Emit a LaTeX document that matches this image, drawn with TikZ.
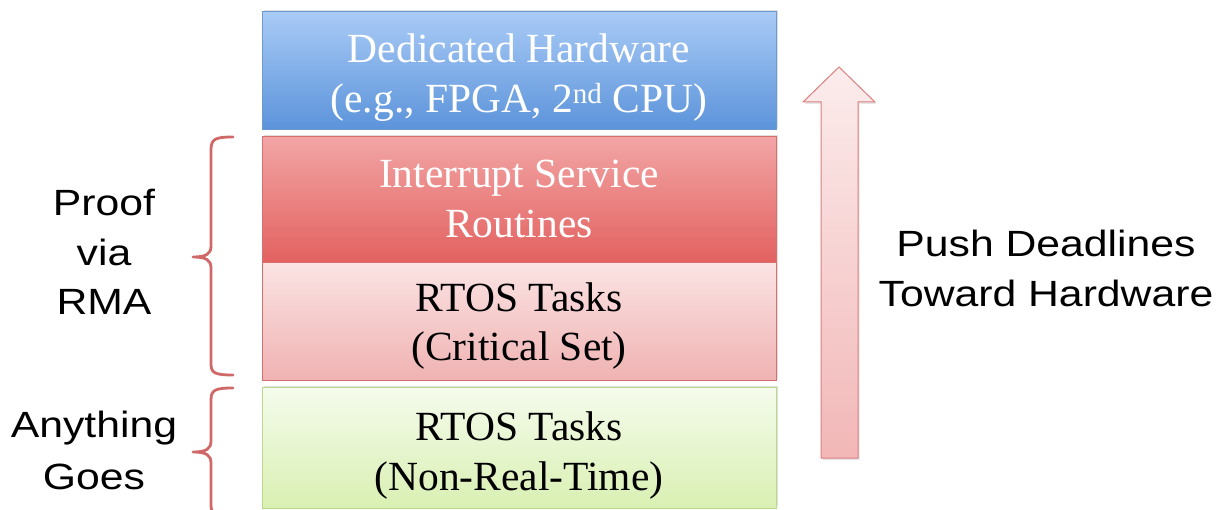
\documentclass[tikz,border=0pt]{standalone}
\usepackage{fontspec}
\setmainfont{Liberation Serif}
\newfontfamily\lblfont[FakeStretch=1.17]{Liberation Sans}
\usetikzlibrary{shadows}
\definecolor{bluetop}{HTML}{A9CBF6}
\definecolor{bluebot}{HTML}{5B93DA}
\definecolor{blueedge}{HTML}{6C9BD2}
\definecolor{redtop}{HTML}{F2A5A5}
\definecolor{redbot}{HTML}{E2615F}
\definecolor{rededge}{HTML}{D66F6D}
\definecolor{pinktop}{HTML}{FBE3E3}
\definecolor{pinkbot}{HTML}{F0B2B2}
\definecolor{greentop}{HTML}{F5FBEC}
\definecolor{greenbot}{HTML}{D9F0B2}
\definecolor{greenedge}{HTML}{B9D98D}
\definecolor{bracecol}{HTML}{D06868}
\definecolor{arrtop}{HTML}{FCECEC}
\definecolor{arrbot}{HTML}{F2B7B7}
\definecolor{arredge}{HTML}{DB7F7F}
\tikzset{
  layer/.style={line width=1pt, drop shadow={shadow xshift=1.5pt, shadow yshift=2pt, opacity=0.25}},
  boxtext/.style={font=\fontsize{41.5}{41.5}\selectfont, anchor=base, inner sep=0pt},
  sidetext/.style={font=\lblfont\fontsize{36.5}{36.5}\selectfont, anchor=base, inner sep=0pt},
  bracestyle/.style={draw=bracecol, line width=2.8pt, line cap=round, line join=round}
}
\begin{document}
\begin{tikzpicture}[x=1pt,y=-1pt]
\useasboundingbox (0,0) rectangle (1221,510);
\begin{scope}
\clip (0,0) rectangle (1221,510);
% boxes
\shade[layer, top color=greentop, bottom color=greenbot, draw=greenedge] (262,388) rectangle (776,508);
\shade[layer, top color=pinktop, bottom color=pinkbot, draw=rededge] (262,263) rectangle (776,381);
\shade[layer, top color=redtop, bottom color=redbot, draw=rededge] (262,137) rectangle (776,263);
\shade[layer, top color=bluetop, bottom color=bluebot, draw=blueedge] (262,12) rectangle (776,130);
% arrow
\shade[top color=arrtop, bottom color=arrbot, draw=arredge, line width=1pt,
  drop shadow={shadow xshift=1.5pt, shadow yshift=-2pt, opacity=0.2}]
  (839,67) -- (875,102) -- (858,102) -- (858,458) -- (821,458) -- (821,102) -- (803,102) -- cycle;
% braces
\draw[bracestyle] (233,137) .. controls (215,137) and (211,139) .. (211,150)
  -- (211,246) .. controls (211,254) and (206,257) .. (193,257)
  .. controls (206,257) and (211,260) .. (211,268)
  -- (211,364) .. controls (211,373) and (215,375) .. (233,375);
\draw[bracestyle] (233,388) .. controls (215,388) and (211,390) .. (211,400)
  -- (211,441) .. controls (211,449) and (206,452) .. (193,452)
  .. controls (206,452) and (211,455) .. (211,463)
  -- (211,505) .. controls (211,514) and (215,516) .. (233,516);
\end{scope}
% box texts
\node[boxtext, text=white] (hw1) at (519,63) {Dedicated Hardware};
\node[boxtext, text=white] (hw2) at (519,113) {(e.g., FPGA, 2\textsuperscript{nd} CPU)};
\node[boxtext, text=white] (isr1) at (519,188) {Interrupt Service};
\node[boxtext, text=white] (isr2) at (519,238) {Routines};
\node[boxtext, text=black] (crit1) at (519,312) {RTOS Tasks};
\node[boxtext, text=black] (crit2) at (519,361) {(Critical Set)};
\node[boxtext, text=black] (nrt1) at (519,440) {RTOS Tasks};
\node[boxtext, text=black] (nrt2) at (519,490) {(Non-Real-Time)};
% side labels
\node[sidetext] (pf1) at (104,216) {Proof};
\node[sidetext] (pf2) at (104,266) {via};
\node[sidetext] (pf3) at (104,315) {RMA};
\node[sidetext] (ag1) at (94,438) {Anything};
\node[sidetext] (ag2) at (94,489) {Goes};
\node[sidetext] (push1) at (1046,257) {Push Deadlines};
\node[sidetext] (push2) at (1046,307) {Toward Hardware};
\end{tikzpicture}
\end{document}
